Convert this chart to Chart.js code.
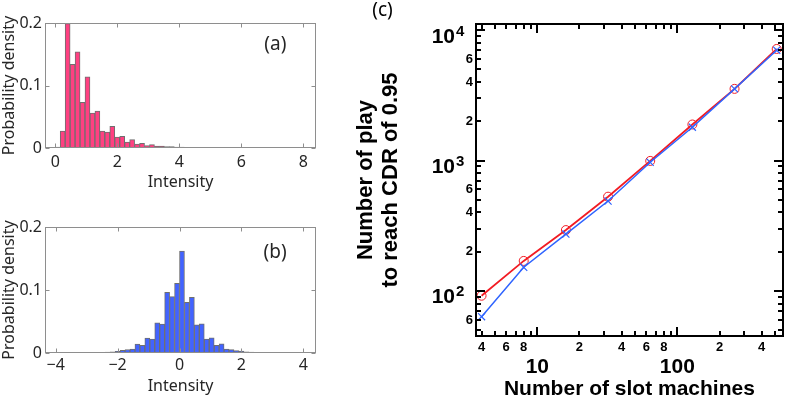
<!DOCTYPE html>
<html><head><meta charset="utf-8">
<script src="https://cdn.jsdelivr.net/npm/chart.js@4/dist/chart.umd.min.js"></script>
<style>
html,body{margin:0;padding:0;background:#fff;}
body{width:789px;height:399px;position:relative;overflow:hidden;}
canvas{position:absolute;display:block;}
</style></head><body>
<canvas id="ca" width="330" height="195" style="left:0;top:0"></canvas>
<canvas id="cb" width="330" height="199" style="left:0;top:200px"></canvas>
<canvas id="cc" width="449" height="399" style="left:340px;top:0"></canvas>
<script>
// ---------- data: panel (a) ----------
const binCentersA = [0.08,0.24,0.40,0.56,0.72,0.88,1.04,1.20,1.36,1.52,1.68,1.84,2.00,2.16,2.32,2.48,2.64,2.80,2.96,3.12,3.28,3.44,3.60,3.76,3.92,4.08,4.24,4.40,4.56,4.72,4.88,5.04,5.20,5.36,5.52,5.68,5.84,6.00,6.16,6.32,6.48,6.64,6.80,6.96,7.12,7.28,7.44,7.60,7.76,7.92];
const densityA = [0.0016,0.027,0.199,0.134,0.154,0.073,0.114,0.056,0.059,0.027,0.0255,0.0346,0.0176,0.0186,0.0096,0.0133,0.0064,0.0074,0.0037,0.0053,0.0032,0.0030,0.0022,0.0024,0.0016,0.0014,0.0010,0.0012,0.0006,0.0005,0.0004,0.0003,0.0003,0.0002,0.0002,0.0001,0.0001,0.0001,0,0,0,0,0,0,0,0,0,0,0,0];
const xTicksA = [0,2,4,6,8];
// ---------- data: panel (b) ----------
const binCentersB = [-3.92,-3.76,-3.60,-3.44,-3.28,-3.12,-2.96,-2.80,-2.64,-2.48,-2.32,-2.16,-2.00,-1.84,-1.68,-1.52,-1.36,-1.20,-1.04,-0.88,-0.72,-0.56,-0.40,-0.24,-0.08,0.08,0.24,0.40,0.56,0.72,0.88,1.04,1.20,1.36,1.52,1.68,1.84,2.00,2.16,2.32,2.48,2.64,2.80,2.96,3.12,3.28,3.44,3.60,3.76,3.92];
const densityB = [0.0001,0.0001,0.0002,0.0002,0.0003,0.0003,0.0005,0.0006,0.0009,0.0011,0.0016,0.0018,0.0028,0.0042,0.0055,0.0063,0.0142,0.012,0.0237,0.022,0.048,0.046,0.0963,0.0895,0.1105,0.1616,0.0805,0.0884,0.0447,0.0465,0.022,0.024,0.012,0.0147,0.0063,0.0053,0.0037,0.0030,0.0018,0.0015,0.0010,0.0008,0.0006,0.0005,0.0003,0.0002,0.0002,0.0001,0.0001,0.0001];
const xTicksB = [-4,-2,0,2,4];
const histYTicks = [0,0.1,0.2];
const histYLabels = ['0','0.1','0.2'];
// ---------- data: panel (c) ----------
const slotMachines = [4,8,16,32,64,128,256,512];
const playsCircle = [92,170,293,528,993,1888,3540,7160];
const playsCross = [63.5,152,273,489,969,1798,3540,7000];
const xLabeledTicks = [4,6,8,10,20,40,60,80,100,200,400];
const xTickLabels = ['4','6','8','10','2','4','6','8','100','2','4'];
const xMajorTicks = [10,100];
const xMinorTicks = [4,5,6,7,8,9,20,30,40,50,60,70,80,90,200,300,400,500];
const yLabeledTicks = [60,200,400,600,2000,4000,6000];
const yTickLabels = ['6','2','4','6','2','4','6'];
const yMajorTicks = [100,1000,10000];
const yMajorExponents = ['2','3','4'];
const yMinorTicks = [50,60,70,80,90,200,300,400,500,600,700,800,900,2000,3000,4000,5000,6000,7000,8000,9000];

// ---------- frame / inward ticks / annotation plugin ----------
const framePlugin = {
  id: 'frame',
  afterDatasetsDraw(chart, args, o) {
    const {ctx, chartArea: a} = chart;
    const xs = chart.scales.x, ys = chart.scales.y;
    const off = (o.width % 2) ? 0.5 : 0;
    const L = Math.round(a.left) + off, R = Math.round(a.right) - off;
    const T = Math.round(a.top) + off, B = Math.round(a.bottom) - off;
    ctx.save();
    ctx.strokeStyle = o.color; ctx.lineWidth = o.width; ctx.lineCap = 'butt';
    ctx.beginPath();
    for (const t of o.xTicks) {
      const p = Math.round(xs.getPixelForValue(t.v)) + off;
      ctx.moveTo(p, B); ctx.lineTo(p, B - t.len);
      ctx.moveTo(p, T); ctx.lineTo(p, T + t.len);
    }
    for (const t of o.yTicks) {
      const p = Math.round(ys.getPixelForValue(t.v)) + off;
      ctx.moveTo(L, p); ctx.lineTo(L + t.len, p);
      ctx.moveTo(R, p); ctx.lineTo(R - t.len, p);
    }
    ctx.stroke();
    ctx.strokeRect(L, T, R - L, B - T);
    for (const t of (o.texts || [])) {
      ctx.font = t.font; ctx.fillStyle = t.color;
      ctx.textAlign = 'center'; ctx.textBaseline = 'middle';
      const x = t.px !== undefined ? t.px : xs.getPixelForValue(t.x);
      const y = t.py !== undefined ? t.py : ys.getPixelForValue(t.y);
      ctx.fillText(t.text, x, y);
    }
    if (o.powers) {
      ctx.fillStyle = '#000'; ctx.textBaseline = 'alphabetic';
      o.powers.forEach((v, i) => {
        const py = ys.getPixelForValue(v);
        ctx.font = 'bold 21px "Liberation Sans"'; ctx.textAlign = 'right';
        ctx.fillText('10', a.left - 21, py + 12.5);
        ctx.font = 'bold 15px "Liberation Sans"'; ctx.textAlign = 'left';
        ctx.fillText(yMajorExponents[i], a.left - 20, py + 5.5);
      });
    }
    ctx.restore();
  }
};

const histFont = '"Noto Sans", "DejaVu Sans", sans-serif';
const txt = '#262626';

function histChart(id, centers, vals, fill, xmin, xmax, xTicks, padTop, axisH, tickPad, titlePadB, tag, tagX, tagY) {
  return new Chart(document.getElementById(id), {
    type: 'bar',
    data: { datasets: [{
      data: centers.map((c, i) => ({x: c, y: vals[i]})),
      backgroundColor: fill, borderColor: '#6f6f6f', borderWidth: 1,
      barPercentage: 1, categoryPercentage: 1
    }]},
    options: {
      responsive: false, animation: false,
      layout: {padding: {top: padTop, right: 14, left: 0, bottom: 0}},
      plugins: {
        legend: {display: false}, tooltip: {enabled: false},
        frame: {color: '#8e8e8e', width: 1,
          xTicks: xTicks.map(v => ({v, len: 4})),
          yTicks: histYTicks.map(v => ({v, len: 4})),
          texts: [{text: tag, x: tagX, y: tagY, font: '19px ' + histFont, color: txt}]}
      },
      scales: {
        x: {type: 'linear', min: xmin, max: xmax, offset: false,
          grid: {display: false, drawTicks: false}, border: {display: false},
          afterBuildTicks: s => { s.ticks = xTicks.map(v => ({value: v})); },
          afterFit: s => { s.height = axisH; },
          ticks: {autoSkip: false, maxRotation: 0, padding: tickPad, color: txt,
            font: {family: histFont, size: 16}, callback: v => String(v).replace('-', '\u2212')},
          title: {display: true, text: 'Intensity', color: txt,
            font: {family: histFont, size: 16, lineHeight: 1.2}, padding: {top: 0, bottom: titlePadB}}
        },
        y: {min: 0, max: 0.2, grid: {display: false, drawTicks: false}, border: {display: false},
          afterBuildTicks: s => { s.ticks = histYTicks.map(v => ({value: v})); },
          afterFit: s => { s.width = 45; },
          ticks: {padding: 3, color: txt, font: {family: histFont, size: 16},
            callback: (v) => histYLabels[histYTicks.indexOf(v)]},
          title: {display: true, text: 'Probability density', color: txt,
            font: {family: histFont, size: 16, lineHeight: 1.2}, padding: {top: 0, bottom: 0}}
        }
      }
    },
    plugins: [framePlugin]
  });
}

histChart('ca', binCentersA, densityA, '#ff4081', -0.33, 8.41, xTicksA, 23, 47, 5, 3, '(a)', 7.1, 0.166);
histChart('cb', binCentersB, densityB, '#4263ff', -4.346, 4.41, xTicksB, 27, 46, 3, 3, '(b)', 3.09, 0.159);

const cFont = '"Liberation Sans", Arial, sans-serif';
new Chart(document.getElementById('cc'), {
  type: 'line',
  data: { datasets: [
    {data: slotMachines.map((n, i) => ({x: n, y: playsCross[i]})),
     borderColor: '#2f64ff', borderWidth: 1.5, tension: 0, fill: false,
     pointStyle: 'crossRot', pointRadius: 5, pointBorderColor: '#2f64ff', pointBorderWidth: 1.2,
     pointBackgroundColor: 'rgba(0,0,0,0)', order: 0},
    {data: slotMachines.map((n, i) => ({x: n, y: playsCircle[i]})),
     borderColor: '#f21c24', borderWidth: 1.8, tension: 0, fill: false,
     pointStyle: 'circle', pointRadius: 4.5, pointBorderColor: '#f21c24', pointBorderWidth: 1,
     pointBackgroundColor: 'rgba(0,0,0,0)', order: 1}
  ]},
  options: {
    responsive: false, animation: false,
    layout: {padding: {top: 24, right: 1, left: 0, bottom: 0}},
    plugins: {
      legend: {display: false}, tooltip: {enabled: false},
      frame: {color: '#000', width: 2,
        xTicks: xMajorTicks.map(v => ({v, len: 9})).concat(xMinorTicks.map(v => ({v, len: 5}))),
        yTicks: yMajorTicks.map(v => ({v, len: 9})).concat(yMinorTicks.map(v => ({v, len: 5}))),
        texts: [{text: '(c)', px: 42.5, py: 11, font: '19px "Noto Sans", sans-serif', color: '#000'}],
        powers: yMajorTicks}
    },
    scales: {
      x: {type: 'logarithmic', min: 3.65, max: 566,
        grid: {display: false, drawTicks: false}, border: {display: false},
        afterBuildTicks: s => { s.ticks = xLabeledTicks.map(v => ({value: v})); },
        afterFit: s => { s.height = 63; },
        ticks: {autoSkip: false, maxRotation: 0, minRotation: 0, padding: 4, color: '#000',
          font: c => (c.tick && xMajorTicks.includes(c.tick.value))
            ? {family: cFont, size: 21, weight: 'bold', lineHeight: 0.85}
            : {family: cFont, size: 13, weight: 'bold', lineHeight: 1.2},
          callback: v => {
            const lab = xTickLabels[xLabeledTicks.indexOf(v)];
            return xMajorTicks.includes(v) ? ['', lab] : lab;
          }},
        title: {display: true, text: 'Number of slot machines', color: '#000',
          font: {family: cFont, size: 21, weight: 'bold', lineHeight: 1}, padding: {top: 0, bottom: -1}}
      },
      y: {type: 'logarithmic', min: 45.2, max: 11120,
        grid: {display: false, drawTicks: false}, border: {display: false},
        afterBuildTicks: s => { s.ticks = yLabeledTicks.map(v => ({value: v})); },
        afterFit: s => { s.width = 136; },
        ticks: {autoSkip: false, padding: 3, color: '#000',
          font: {family: cFont, size: 13, weight: 'bold'},
          callback: v => yTickLabels[yLabeledTicks.indexOf(v)]},
        title: {display: true, text: ['Number of play', 'to reach CDR of 0.95'], color: '#000',
          font: {family: cFont, size: 22, weight: 'bold', lineHeight: 1.136}, padding: {top: 13.5, bottom: 0}}
      }
    }
  },
  plugins: [framePlugin]
});
</script>
</body></html>
